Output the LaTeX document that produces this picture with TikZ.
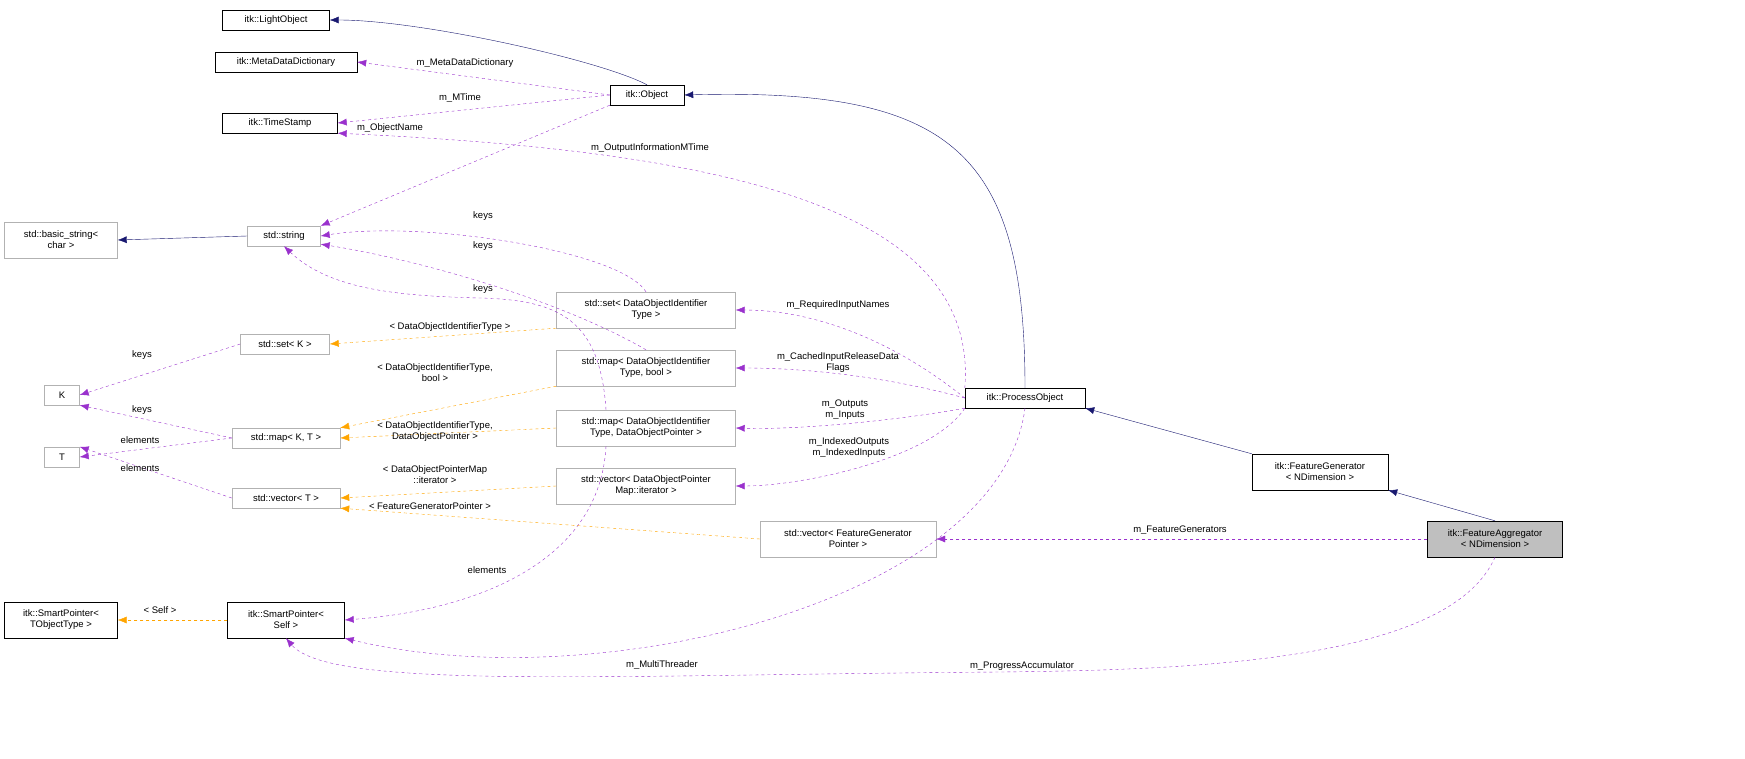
\documentclass[tikz,border=0pt]{standalone}
\usepackage{fontspec}
\setmainfont{Liberation Sans}
\usetikzlibrary{arrows.meta}
\begin{document}
\begin{tikzpicture}[x=1pt,y=1pt,
  cls/.style={draw=black,fill=white,inner sep=1pt,minimum height=20pt,align=center,font=\fontsize{9.5}{11}\selectfont},
  gcls/.style={cls,draw=gray!60},
  tall/.style={minimum height=36pt},
  lbl/.style={inner sep=0pt,align=center,font=\fontsize{9.5}{11}\selectfont},
  inh/.style={draw=navyblue,-{Latex[length=9pt,width=7pt]}},
  usee/.style={draw=usepurple,dashed,-{Latex[length=9pt,width=7pt]}},
  tmpl/.style={draw=tmplorange,dashed,-{Latex[length=9pt,width=7pt]}}]
\definecolor{navyblue}{HTML}{191970}
\definecolor{usepurple}{HTML}{9A32CD}
\definecolor{tmplorange}{HTML}{FFA500}
\useasboundingbox (0,0) rectangle (1745,-759);
% nodes
\node[cls,minimum width=107pt] (LO) at (276,-20) {itk::LightObject};
\node[cls,minimum width=142pt] (MDD) at (286,-62) {itk::MetaDataDictionary};
\node[cls,minimum width=115pt] (TS) at (280,-123) {itk::TimeStamp};
\node[cls,minimum width=74pt] (OB) at (647,-95) {itk::Object};
\node[gcls,tall,minimum width=113pt] (BS) at (61,-240) {std::basic\_string<\\char >};
\node[gcls,minimum width=73pt] (STR) at (284,-236) {std::string};
\node[gcls,minimum width=89pt] (SK) at (285,-344) {std::set< K >};
\node[gcls,minimum width=35pt] (K) at (62,-395) {K};
\node[gcls,minimum width=108pt] (MKT) at (286,-438) {std::map< K, T >};
\node[gcls,minimum width=35pt] (T) at (62,-457) {T};
\node[gcls,minimum width=108pt] (VT) at (286,-498) {std::vector< T >};
\node[cls,tall,minimum width=113pt] (SPT) at (61,-620) {itk::SmartPointer<\\TObjectType >};
\node[cls,tall,minimum width=117pt] (SPS) at (286,-620) {itk::SmartPointer<\\Self >};
\node[gcls,tall,minimum width=179pt] (SD) at (646,-310) {std::set< DataObjectIdentifier\\Type >};
\node[gcls,tall,minimum width=179pt] (MB) at (646,-368) {std::map< DataObjectIdentifier\\Type, bool >};
\node[gcls,tall,minimum width=179pt] (MD) at (646,-428) {std::map< DataObjectIdentifier\\Type, DataObjectPointer >};
\node[gcls,tall,minimum width=179pt] (VI) at (646,-486) {std::vector< DataObjectPointer\\Map::iterator >};
\node[gcls,tall,minimum width=176pt] (VF) at (848,-539) {std::vector< FeatureGenerator\\Pointer >};
\node[cls,minimum width=120pt] (PO) at (1025,-398) {itk::ProcessObject};
\node[cls,tall,minimum width=136pt] (FG) at (1320,-472) {itk::FeatureGenerator\\< NDimension >};
\node[cls,tall,minimum width=135pt,fill=gray!50] (FA) at (1495,-539) {itk::FeatureAggregator\\< NDimension >};
% inheritance
\draw[inh] (OB.north) .. controls (600,-60) and (420,-20) .. (LO.east);
\draw[inh] (PO.north) .. controls (1025,-150) and (950,-88) .. (OB.east);
\draw[inh] (STR.west) -- (BS.east);
\draw[inh] (FG.north west) -- (PO.south east);
\draw[inh] (FA.north) -- (FG.south east);
% usage
\draw[usee] (OB.west) -- (MDD.east);
\draw[usee] (OB.west) -- (TS.east);
\draw[usee] (OB.south west) -- (STR.north east);
\draw[usee] (PO.north west) .. controls (980,-200) and (700,-150) .. (TS.south east);
\draw[usee] (SD.north) .. controls (620,-250) and (420,-220) .. (STR.east);
\draw[usee] (MB.north) .. controls (560,-300) and (420,-260) .. ([yshift=2pt]STR.south east);
\draw[usee] ([xshift=-40pt]MD.north) .. controls (600,-320) and (560,-300) .. (480,-298) .. controls (400,-296) and (330,-290) .. (STR.south);
\draw[usee] (SK.west) -- (K.east);
\draw[usee] (MKT.west) -- (K.south east);
\draw[usee] (MKT.west) -- (T.east);
\draw[usee] (VT.west) -- (T.north east);
\draw[usee] ([xshift=-40pt]MD.south) .. controls (600,-560) and (480,-610) .. (SPS.east);
\draw[usee] (PO.west) .. controls (880,-330) and (800,-310) .. (SD.east);
\draw[usee] (PO.west) .. controls (880,-375) and (800,-368) .. (MB.east);
\draw[usee] (PO.south west) .. controls (900,-420) and (800,-430) .. (MD.east);
\draw[usee] (PO.south west) .. controls (930,-460) and (800,-486) .. (VI.east);
\draw[usee] (PO.south) .. controls (1000,-600) and (600,-700) .. (SPS.south east);
\draw[usee] (FA.west) -- (VF.east);
\draw[usee] (FA.south) .. controls (1450,-660) and (1200,-670) .. (1000,-672) .. controls (600,-675) and (330,-690) .. (SPS.south);
% template
\draw[tmpl] (SD.south west) -- (SK.east);
\draw[tmpl] (MB.south west) -- (MKT.north east);
\draw[tmpl] (MD.west) -- (MKT.east);
\draw[tmpl] (VI.west) -- (VT.east);
\draw[tmpl] (VF.west) -- (VT.south east);
\draw[tmpl] (SPS.west) -- (SPT.east);
% labels
\node[lbl] (l1) at (465,-63) {m\_MetaDataDictionary};
\node[lbl] (l2) at (460,-98) {m\_MTime};
\node[lbl] (l3) at (390,-128) {m\_ObjectName};
\node[lbl] (l4) at (650,-148) {m\_OutputInformationMTime};
\node[lbl] (l5) at (483,-216) {keys};
\node[lbl] (l6) at (483,-246) {keys};
\node[lbl] (l7) at (483,-289) {keys};
\node[lbl] (l8) at (142,-355) {keys};
\node[lbl] (l9) at (142,-410) {keys};
\node[lbl] (l10) at (140,-440) {elements};
\node[lbl] (l11) at (140,-468) {elements};
\node[lbl] (l12) at (450,-327) {< DataObjectIdentifierType >};
\node[lbl] (l13) at (435,-373) {< DataObjectIdentifierType,\\bool >};
\node[lbl] (l14) at (435,-432) {< DataObjectIdentifierType,\\DataObjectPointer >};
\node[lbl] (l15) at (435,-475) {< DataObjectPointerMap\\::iterator >};
\node[lbl] (l16) at (430,-506) {< FeatureGeneratorPointer >};
\node[lbl] (l17) at (160,-610) {< Self >};
\node[lbl] (l18) at (487,-570) {elements};
\node[lbl] (l19) at (838,-305) {m\_RequiredInputNames};
\node[lbl] (l20) at (838,-363) {m\_CachedInputReleaseData\\Flags};
\node[lbl] (l21) at (845,-410) {m\_Outputs\\m\_Inputs};
\node[lbl] (l22) at (849,-448) {m\_IndexedOutputs\\m\_IndexedInputs};
\node[lbl] (l23) at (662,-665) {m\_MultiThreader};
\node[lbl] (l24) at (1180,-530) {m\_FeatureGenerators};
\node[lbl] (l25) at (1022,-666) {m\_ProgressAccumulator};
\end{tikzpicture}
\end{document}
